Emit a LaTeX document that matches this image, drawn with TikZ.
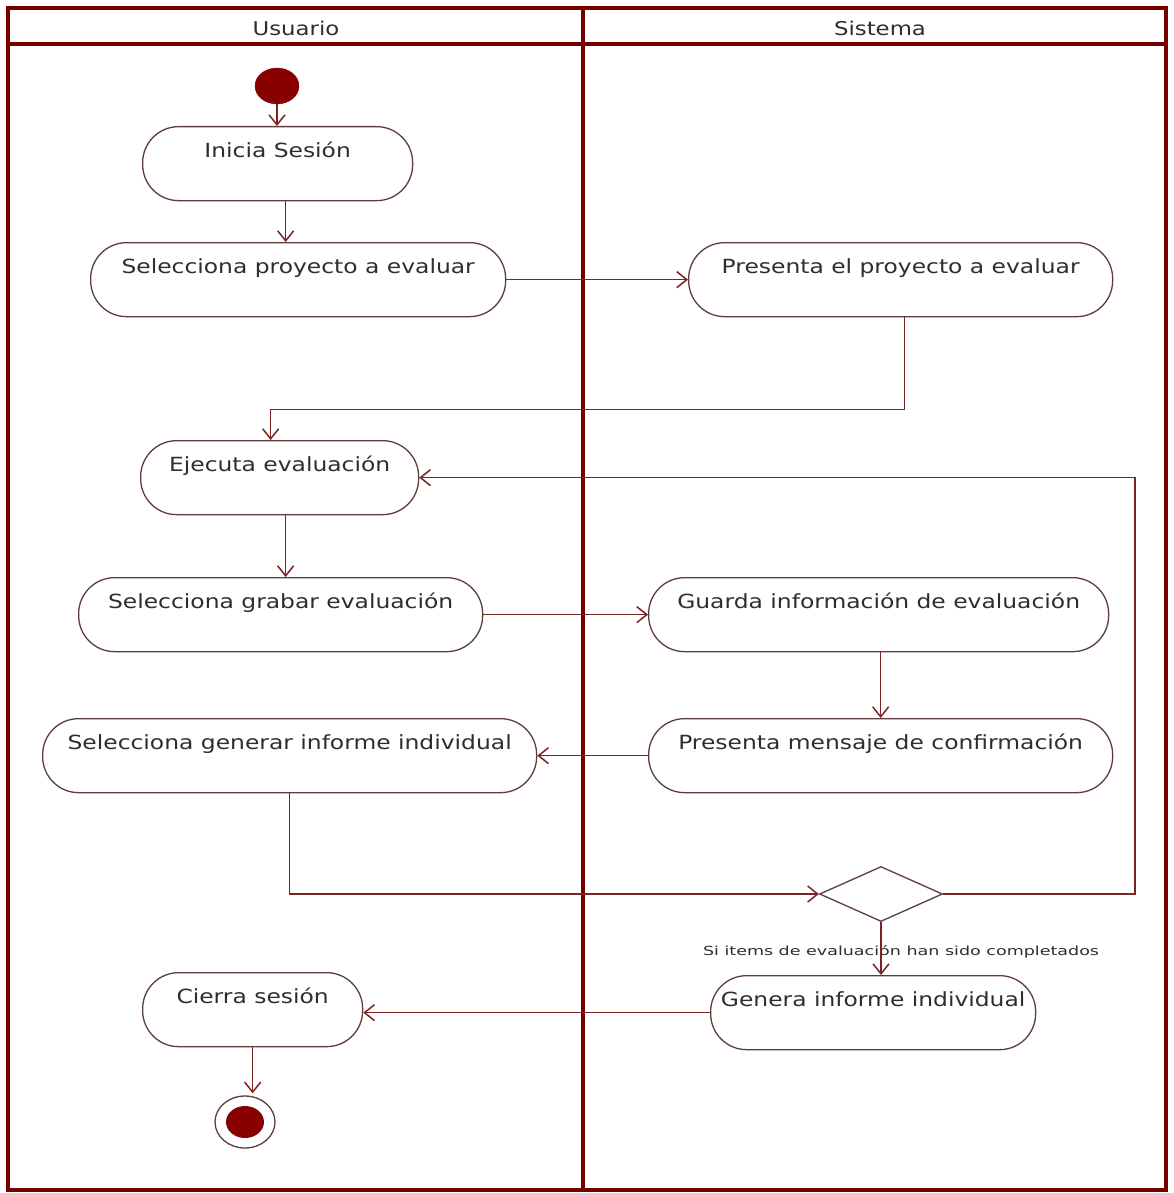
\documentclass[tikz,border=0pt]{standalone}
\usepackage{fontspec}
\setmainfont[FakeStretch=1.2]{DejaVu Sans}
\newfontfamily\lblfont[FakeStretch=1.4]{DejaVu Sans}
\usetikzlibrary{arrows.meta,shapes.geometric}
\definecolor{lanec}{HTML}{740000}
\definecolor{connc}{HTML}{7B2424}
\definecolor{nodec}{HTML}{5E3C3C}
\definecolor{txtc}{HTML}{2E2E2E}
\definecolor{dotc}{HTML}{880000}
\tikzset{
  laneline/.style={draw=lanec, line width=3.4},
  hdr/.style={text=txtc, font=\fontsize{19}{22}\selectfont, inner sep=0},
  act/.style={draw=nodec, line width=1.3, rounded corners=36, anchor=north west,
    inner xsep=0, inner ysep=0, text height=31, text depth=43, text=txtc,
    font=\fontsize{19.5}{22}\selectfont},
  flow/.style={draw=connc, line width=1.5, -{Straight Barb[length=10,width=16]}},
  lbl/.style={text=txtc, font=\lblfont\fontsize{12.5}{14}\selectfont, inner sep=0},
}
\begin{document}
\begin{tikzpicture}[x=1pt,y=-1pt]
\useasboundingbox (0,0) rectangle (1173,1193);
\fill[white] (0,0) rectangle (1173,1193);
% swimlanes
\draw[laneline] (8,8) rectangle (1166,1190);
\draw[laneline] (8,44) -- (1166,44);
\draw[laneline] (583,8) -- (583,1190);
\node[hdr] (husr) at (296,28) {Usuario};
\node[hdr] (hsis) at (880,28) {Sistema};
% nodes
\node[ellipse, fill=dotc, draw=dotc, minimum width=44, minimum height=36, inner sep=0] (start) at (277,86) {};
\node[act, minimum width=270] (inicia) at (142,126) {Inicia Sesión};
\node[act, minimum width=415] (selproy) at (90,242) {Selecciona proyecto a evaluar};
\node[act, minimum width=424] (presproy) at (688,242) {Presenta el proyecto a evaluar};
\node[act, minimum width=278] (ejec) at (140,440) {Ejecuta evaluación};
\node[act, minimum width=404] (selgrab) at (78,577) {Selecciona grabar evaluación};
\node[act, minimum width=460] (guarda) at (648,577) {Guarda información de evaluación};
\node[act, minimum width=494] (selgen) at (42,718) {Selecciona generar informe individual};
\node[act, minimum width=464] (presmsg) at (648,718) {Presenta mensaje de confirmación};
\node[diamond, draw=nodec, line width=1.3, minimum width=123, minimum height=55, inner sep=0] (dec) at (881,894) {};
\node[lbl] (cond) at (901,952) {Si items de evaluación han sido completados};
\node[act, minimum width=325] (gen) at (710,975) {Genera informe individual};
\node[act, minimum width=220] (cierra) at (142,972) {Cierra sesión};
\node[ellipse, draw=nodec, line width=1.3, minimum width=60, minimum height=52, inner sep=0] (fin) at (245,1122) {};
\node[ellipse, fill=dotc, minimum width=38, minimum height=32, inner sep=0] (findot) at (245,1122) {};
% flows
\draw[flow] (start.south) -- (start.south |- inicia.north);
\draw[flow] ([xshift=8]inicia.south) -- ([xshift=8]inicia.south |- selproy.north);
\draw[flow] (selproy.east) -- (presproy.west);
\draw[flow] ([xshift=4]presproy.south) -- ++(0,92) -| ([xshift=-9]ejec.north);
\draw[flow] ([xshift=6]ejec.south) -- ([xshift=6]ejec.south |- selgrab.north);
\draw[flow] (selgrab.east) -- (guarda.west);
\draw[flow] ([xshift=2]guarda.south) -- ([xshift=2]guarda.south |- presmsg.north);
\draw[flow] (presmsg.west) -- (selgen.east);
\draw[flow] (selgen.south) |- (dec.west);
\draw[flow] (dec.east) -- ++(192,0) |- (ejec.east);
\draw[flow] (dec.south) -- (dec.south |- gen.north);
\draw[flow] (gen.west) -- (gen.west -| cierra.east);
\draw[flow] (cierra.south) -- ++(0,46);
\end{tikzpicture}
\end{document}
